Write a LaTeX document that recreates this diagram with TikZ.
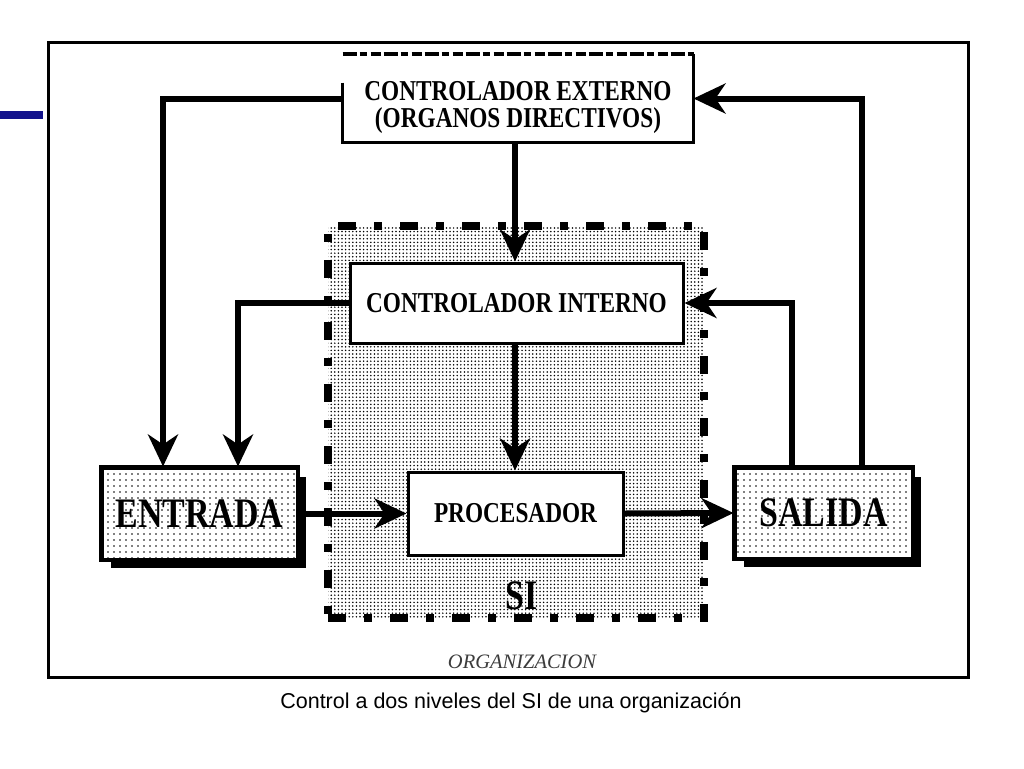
\documentclass[tikz,border=0pt]{standalone}
\usepackage{fontspec}
\setmainfont{Liberation Serif}
\newfontfamily\capfont{Liberation Sans}
\usetikzlibrary{arrows.meta,patterns.meta,shadows}
\definecolor{barblue}{RGB}{18,18,140}
\definecolor{orggray}{RGB}{60,60,60}
\newcommand{\tall}[1]{\scalebox{0.97}[1.2]{#1}}
\begin{document}
\begin{tikzpicture}[x=1pt,y=-1pt,
  arr/.style={line width=6pt,-{Stealth[length=32pt,width=30pt,inset=10pt]}},
  wbox/.style={line width=3pt,fill=white,inner sep=0pt,font=\bfseries\fontsize{24}{28}\selectfont},
  dbox/.style={draw,line width=3pt,inner sep=0pt,fill=white,
    drop shadow={shadow xshift=9pt,shadow yshift=-9pt,fill=black,opacity=1},
    font=\bfseries\fontsize{34}{40}\selectfont},
  dotfill/.style={pattern={Dots[distance=6pt,radius=0.8pt]}},
  sibox/.style={line width=8pt,dash pattern=on 18pt off 18pt on 8pt off 18pt,
    pattern={Dots[distance=3.6pt,radius=0.85pt]},inner sep=0pt},
]
\useasboundingbox (0,0) rectangle (1024,768);
\fill[white] (0,0) rectangle (1024,768);
% blue bar and frame
\fill[barblue] (0,111) rectangle (43,119);
\node[draw,line width=3pt,minimum width=920pt,minimum height=634pt,inner sep=0pt] (org) at (508,360) {};
% SI box
\node[sibox,minimum width=376pt,minimum height=392pt] (si) at (516,422) {};
\node[draw,sibox,pattern=none,minimum width=376pt,minimum height=392pt] (sib) at (516,422) {};
\node[font=\bfseries\fontsize{35}{40}\selectfont] (silbl) at (522,596) {\tall{SI}};
% boxes
\node[wbox,minimum width=348pt,minimum height=85pt] (ext) at (518,98.5) {};
\draw[line width=3pt] ([yshift=-28pt]ext.north west) -- (ext.south west) -- (ext.south east) -- (ext.north east);
\draw[line width=4pt,dash pattern=on 14pt off 3pt on 7pt off 4pt on 10pt off 3pt] (ext.north west) -- (ext.north east);
\node[font=\bfseries\fontsize{24}{30}\selectfont] (extT) at (518,91) {\tall{CONTROLADOR EXTERNO}};
\node[font=\bfseries\fontsize{24}{30}\selectfont] (extT2) at (518,121) {\tall{(ORGANOS DIRECTIVOS)}};
\node[wbox,draw,minimum width=333pt,minimum height=80pt] (intc) at (516.5,303) {\tall{CONTROLADOR INTERNO}};
\node[wbox,draw,minimum width=215pt,minimum height=83pt] (proc) at (515.5,513.5) {\tall{PROCESADOR}};
\node[dbox,minimum width=195pt,minimum height=91pt] (ent) at (199.5,513.5) {};
\node[dbox,minimum width=177pt,minimum height=90pt] (sal) at (823.5,513) {};
\path[dotfill] (ent.north west) rectangle (ent.south east);
\path[dotfill] (sal.north west) rectangle (sal.south east);
\draw[line width=3pt] (ent.north west) rectangle (ent.south east);
\draw[line width=3pt] (sal.north west) rectangle (sal.south east);
\node[font=\bfseries\fontsize{35}{40}\selectfont] (entT) at (ent.center) {\tall{ENTRADA}};
\node[font=\bfseries\fontsize{35}{40}\selectfont] (salT) at (sal.center) {\tall{SALIDA}};
% labels
\node[font=\itshape\fontsize{20.5}{24}\selectfont,text=orggray] (orgl) at (522,662) {ORGANIZACION};
\node[font=\capfont\fontsize{21.5}{24}\selectfont] (cap) at (511,703) {Control a dos niveles del SI de una organización};
% connectors
\coordinate (c1) at (163,0);
\coordinate (c2) at (238,0);
\coordinate (c3) at (515,0);
\coordinate (c4) at (792,0);
\coordinate (c5) at (862,0);
\draw[arr] (ext.west) -| (c1 |- ent.north);
\draw[arr] (intc.west) -| (c2 |- ent.north);
\draw[arr] (c3 |- ext.south) -- (c3 |- intc.north);
\draw[arr] (c3 |- intc.south) -- (c3 |- proc.north);
\draw[arr] (ent.east) -- (proc.west);
\draw[arr] (proc.east) -- (sal.west);
\draw[arr] (c4 |- sal.north) |- (intc.east);
\draw[arr] (c5 |- sal.north) |- (ext.east);
\end{tikzpicture}
\end{document}
